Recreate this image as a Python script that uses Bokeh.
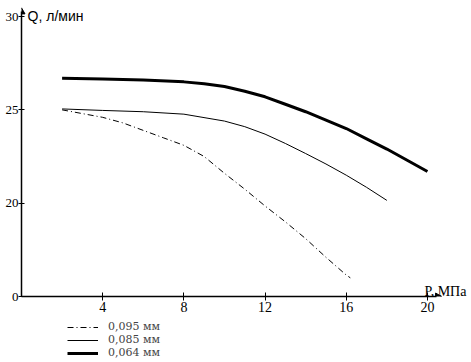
from bokeh.plotting import figure
from bokeh.layouts import column
from bokeh.models import Range1d, FixedTicker, Legend, LegendItem, Label
from bokeh.embed import file_html
from bokeh.resources import INLINE

# Data (P, MPa -> Q, l/min); y axis is broken: bottom 15 is labelled "0"
P_095 = [2, 3, 4, 5, 6, 7, 8, 9, 10, 11, 12, 13, 14, 15, 16, 16.2]
Q_095 = [25.0, 24.8, 24.6, 24.3, 23.9, 23.5, 23.1, 22.5, 21.6, 20.75, 19.85, 19.0, 18.1, 17.1, 16.15, 16.0]

P_085 = [2, 4, 6, 8, 10, 11, 12, 13, 14, 15, 16, 17, 18]
Q_085 = [25.05, 24.97, 24.9, 24.77, 24.4, 24.1, 23.7, 23.2, 22.66, 22.1, 21.5, 20.85, 20.15]

P_064 = [2, 4, 6, 8, 9, 10, 11, 12, 13, 14, 15, 16, 17, 18, 19, 20]
Q_064 = [26.7, 26.65, 26.6, 26.5, 26.4, 26.25, 26.0, 25.7, 25.3, 24.9, 24.45, 24.0, 23.45, 22.9, 22.3, 21.7]

labels = ["0,095 мм", "0,085 мм", "0,064 мм"]
x_ticks = [4, 8, 12, 16, 20]
y_ticks = [15, 20, 25, 30]
y_tick_labels = {15: "0", 20: "20", 25: "25", 30: "30"}

SERIF = "Liberation Serif"
styles = [dict(line_color="black", line_width=1, line_dash="6 3 1 3"),
          dict(line_color="black", line_width=1),
          dict(line_color="black", line_width=3)]
series = [(P_095, Q_095), (P_085, Q_085), (P_064, Q_064)]

p = figure(width=471, height=318, output_backend="svg", toolbar_location=None,
           x_range=Range1d(0, 22.17), y_range=Range1d(15, 30.86),
           min_border_left=21, min_border_right=0, min_border_top=0, min_border_bottom=22)
p.outline_line_color = None
p.grid.visible = False

xa = p.xaxis[0]
xa.ticker = FixedTicker(ticks=x_ticks)
xa.bounds = (0, 20.45)
xa.axis_line_color = "black"
xa.axis_line_width = 1.5
xa.major_tick_in = 4
xa.major_tick_out = 4
xa.minor_tick_line_color = None
xa.major_label_standoff = 1
xa.major_label_text_font = SERIF
xa.major_label_text_font_size = "14px"
xa.major_label_text_color = "black"

ya = p.yaxis[0]
ya.ticker = FixedTicker(ticks=y_ticks)
ya.major_label_overrides = y_tick_labels
ya.bounds = (15, 30.25)
ya.axis_line_color = "black"
ya.axis_line_width = 1.5
ya.major_tick_in = 3
ya.major_tick_out = 3
ya.minor_tick_line_color = None
ya.major_label_standoff = 0
ya.major_label_text_font = SERIF
ya.major_label_text_font_size = "13px"
ya.major_label_text_color = "black"

for (xs, ys), s in zip(series, styles):
    p.line(xs, ys, **s)

# axis arrows
p.scatter([0], [30.25], marker="triangle", size=7, color="black")
p.scatter([20.5], [15], marker="triangle", angle=-1.5708, size=7, color="black")

p.add_layout(Label(x=0.3, y=30.05, text="Q, л/мин", text_font="Liberation Sans",
                   text_font_size="14px", text_baseline="middle", text_color="black"))
p.add_layout(Label(x=19.85, y=15.27, text="P, МПа", text_font=SERIF,
                   text_font_size="14px", text_baseline="alphabetic", text_color="black"))

# legend strip below the chart (its lines lie outside its own view)
lg = figure(width=471, height=44, output_backend="svg", toolbar_location=None,
            x_range=Range1d(100, 101), y_range=Range1d(100, 101),
            x_axis_location=None, y_axis_location=None,
            min_border_left=0, min_border_right=0, min_border_top=0, min_border_bottom=0)
lg.outline_line_color = None
lg.grid.visible = False
rs = [lg.line(xs, ys, **s) for (xs, ys), s in zip(series, styles)]
legend = Legend(items=[LegendItem(label=l, renderers=[r]) for l, r in zip(labels, rs)],
                location=(46, 3), orientation="vertical",
                glyph_width=31, glyph_height=10, label_height=10, spacing=0,
                label_standoff=10, padding=0, margin=0,
                label_text_font="DejaVu Serif", label_text_font_size="11px",
                border_line_color=None, background_fill_alpha=0)
lg.add_layout(legend, "center")

open("out.html", "w").write(file_html(column(p, lg, spacing=0), INLINE))
